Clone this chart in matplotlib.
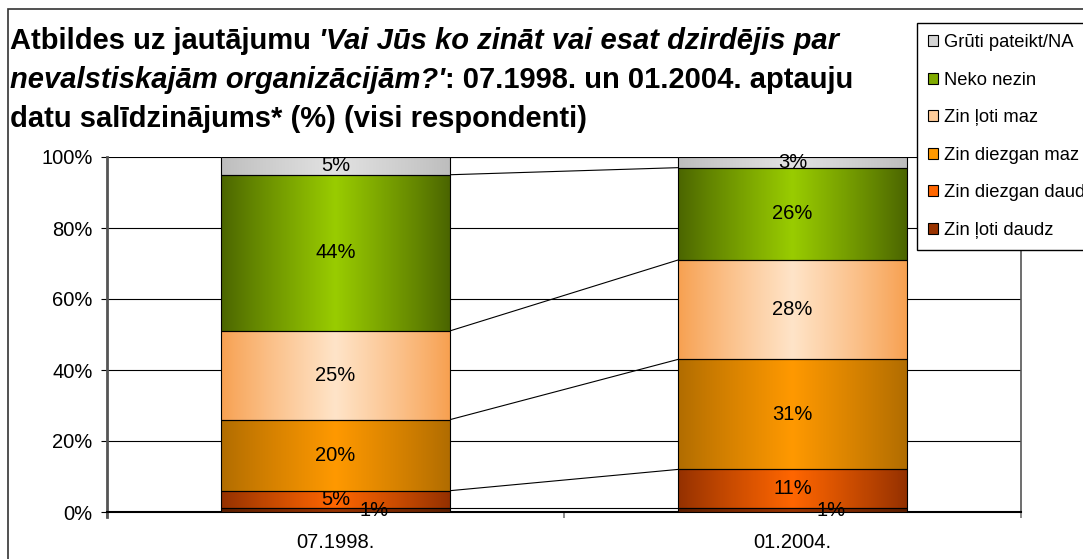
"""Stacked 100% bars: awareness of NGOs, 07.1998 vs 01.2004 survey."""
import matplotlib

matplotlib.use("Agg")
import matplotlib.pyplot as plt
import numpy as np
from matplotlib.patches import Rectangle, Patch

plt.rcParams["font.family"] = ["Liberation Sans", "DejaVu Sans"]

W, H = 1083, 559

periods = ["07.1998.", "01.2004."]
answers = ["Zin ļoti daudz", "Zin diezgan daudz", "Zin diezgan maz",
           "Zin ļoti maz", "Neko nezin", "Grūti pateikt/NA"]
vals_1998 = [1, 5, 20, 25, 44, 5]
vals_2004 = [1, 11, 31, 28, 26, 3]

# (edge colour, centre colour) for the horizontal gradient fill
shades = [("#5c1e00", "#993300"),
          ("#933000", "#ff6600"),
          ("#b06c00", "#ff9900"),
          ("#f7a050", "#ffe4c8"),
          ("#4a6400", "#99cc00"),
          ("#bdbdbd", "#e2e2e2")]
legend_colors = ["#993300", "#ff6600", "#ff9900", "#ffcc99", "#80aa00", "#d4d4d4"]


def hex_rgb(h):
    h = h.lstrip("#")
    return np.array([int(h[i:i + 2], 16) / 255 for i in (0, 2, 4)])


def gradient(edge, centre, n=256):
    t = np.linspace(0, 1, n)
    w = (1 - np.abs(2 * t - 1)) ** 0.9
    e, c = hex_rgb(edge), hex_rgb(centre)
    row = e[None, :] * (1 - w[:, None]) + c[None, :] * w[:, None]
    return row[None, :, :]


fig = plt.figure(figsize=(W / 100, H / 100), dpi=100)
ax = fig.add_axes([107 / W, 47 / H, 914 / W, 355 / H])

x = np.arange(len(periods))
data = np.array([vals_1998, vals_2004]).T  # answers x periods
bottoms = np.zeros(len(periods))
bw = 0.5
tops = []
for i, name in enumerate(answers):
    bars = ax.bar(x, data[i], bottom=bottoms, width=bw, facecolor="none",
                  edgecolor="black", linewidth=0.8, zorder=4)
    for rect in bars:
        x0, y0 = rect.get_x(), rect.get_y()
        im = ax.imshow(gradient(*shades[i]), extent=[x0, x0 + rect.get_width(), y0, y0 + rect.get_height()],
                       aspect="auto", interpolation="bilinear", zorder=3)
        im.set_clip_path(rect)
    for xi, v, b in zip(x, data[i], bottoms):
        dx = 28 if v < 2 else 0
        ax.annotate(f"{v}%", (xi, b + v / 2), xytext=(dx, 0), textcoords="offset points",
                    ha="center", va="center", fontsize=14.5, zorder=6)
    bottoms = bottoms + data[i]
    tops.append(bottoms.copy())

# series lines joining segment tops
for t in tops:
    ax.plot([x[0] + bw / 2, x[1] - bw / 2], t, color="black", lw=0.8, zorder=2)

ax.set_xlim(-0.5, 1.5)
ax.set_ylim(0, 100)
ax.set_yticks(range(0, 101, 20))
ax.set_yticklabels([f"{v}%" for v in range(0, 101, 20)], fontsize=14.5)
ax.yaxis.grid(True, color="black", lw=0.8)
ax.set_axisbelow(True)
ax.tick_params(axis="y", length=4.5, width=0.8, pad=6, direction="out")

ax.set_xticks(x)
ax.set_xticklabels(periods, fontsize=14.5)
ax.set_xticks([-0.5, 0.5, 1.5], minor=True)
ax.tick_params(axis="x", which="major", length=0, pad=15)
ax.tick_params(axis="x", which="minor", length=4.5, width=1.2, color="#777777")

ax.spines["top"].set_visible(False)
ax.spines["left"].set_color("#555555")
ax.spines["left"].set_linewidth(2)
ax.spines["left"].set_bounds(-1.5, 100)
ax.spines["right"].set_color("#555555")
ax.spines["right"].set_linewidth(1.2)
ax.spines["bottom"].set_linewidth(1.5)

# legend, reversed so the top segment is listed first
handles = [Patch(facecolor=c, edgecolor="black", lw=0.8) for c in legend_colors]
fig.legend(handles[::-1], answers[::-1], loc="upper left", bbox_to_anchor=(917 / W, 1 - 23 / H),
           fontsize=13.2, frameon=True, fancybox=False, edgecolor="black", framealpha=1,
           handlelength=0.55, handleheight=0.55, handletextpad=0.3, labelspacing=1.12,
           borderpad=0.6, borderaxespad=0)

# chart area border (cropped on the right and bottom)
fig.patches.append(Rectangle((8 / W, -0.1), 1.2, 1 - 9 / H + 0.1, transform=fig.transFigure,
                             fill=False, edgecolor="#333333", lw=1.2))

# title with mixed bold / bold italic runs
renderer = fig.canvas.get_renderer()
title_lines = [
    [("Atbildes uz jautājumu ", "normal"), ("'Vai Jūs ko zināt vai esat dzirdējis par", "italic")],
    [("nevalstiskajām organizācijām?'", "italic"), (": 07.1998. un 01.2004. aptauju", "normal")],
    [("datu salīdzinājums* (%) (visi respondenti)", "normal")],
]
baselines = [49, 88, 127]
for runs, base in zip(title_lines, baselines):
    xpos = 10
    for txt, style in runs:
        t = fig.text(xpos / W, 1 - base / H, txt, fontsize=21, fontweight="bold", style=style,
                     ha="left", va="baseline")
        xpos = t.get_window_extent(renderer).x1

fig.savefig("out.png", dpi=100)
